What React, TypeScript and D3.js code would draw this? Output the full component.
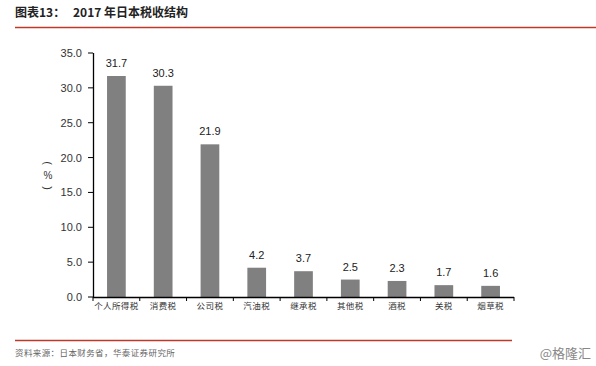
import React, { useEffect, useRef } from "react";
import * as d3 from "d3";

// 2017 Japan tax revenue structure (%)
const categories = ["个人所得税", "消费税", "公司税", "汽油税", "继承税", "其他税", "酒税", "关税", "烟草税"];
const values = [31.7, 30.3, 21.9, 4.2, 3.7, 2.5, 2.3, 1.7, 1.6];
const yTicks = [0, 5, 10, 15, 20, 25, 30, 35];

const W = 596;
const H = 366;
const RED = "#c0392b";
const CJK = "'Noto Sans CJK SC', sans-serif";
const LATIN = "'Liberation Sans', Arial, sans-serif";

const App = () => {
  const svgRef = useRef<SVGSVGElement>(null);

  useEffect(() => {
    if (!svgRef.current) return;
    const svg = d3.select(svgRef.current);
    svg.selectAll("*").remove();

    const left = 93, right = 514, top = 53, bottom = 297;

    const x = d3.scaleBand().domain(categories).range([left, right]).paddingInner(0.6).paddingOuter(0.3);
    const y = d3.scaleLinear().domain([0, 35]).range([bottom, top]);

    // title
    svg.append("text")
      .attr("x", 15).attr("y", 17)
      .attr("font-family", CJK).attr("font-size", 12).attr("font-weight", "bold").attr("fill", "#222")
      .text("图表13：");
    svg.append("text")
      .attr("x", 73).attr("y", 17)
      .attr("font-family", CJK).attr("font-size", 12).attr("font-weight", "bold").attr("fill", "#222")
      .text("2017 年日本税收结构");
    svg.append("line")
      .attr("x1", 15).attr("x2", 596).attr("y1", 27.5).attr("y2", 27.5)
      .attr("stroke", RED).attr("stroke-width", 1.5);

    // y axis
    svg.append("line")
      .attr("x1", left + 0.5).attr("x2", left + 0.5).attr("y1", top).attr("y2", bottom)
      .attr("stroke", "#000").attr("stroke-width", 1.3);
    yTicks.forEach(t => {
      svg.append("line")
        .attr("x1", left - 5).attr("x2", left).attr("y1", y(t)).attr("y2", y(t))
        .attr("stroke", "#000");
      svg.append("text")
        .attr("x", left - 11).attr("y", y(t) + 4)
        .attr("text-anchor", "end")
        .attr("font-family", LATIN).attr("font-size", 11).attr("fill", "#333")
        .text(t.toFixed(1));
    });

    // y label: vertical （%）
    svg.append("text")
      .attr("transform", `translate(48,163) rotate(90)`)
      .attr("text-anchor", "middle").attr("dominant-baseline", "central")
      .attr("font-family", LATIN).attr("font-size", 11).attr("fill", "#333")
      .text("(");
    svg.append("text")
      .attr("x", 48).attr("y", 179)
      .attr("text-anchor", "middle")
      .attr("font-family", LATIN).attr("font-size", 10).attr("fill", "#333")
      .text("%");
    svg.append("text")
      .attr("transform", `translate(48,188) rotate(90)`)
      .attr("text-anchor", "middle").attr("dominant-baseline", "central")
      .attr("font-family", LATIN).attr("font-size", 11).attr("fill", "#333")
      .text(")");

    // bars
    svg.selectAll(".bar")
      .data(values)
      .enter()
      .append("rect")
      .attr("x", (d, i) => x(categories[i])!)
      .attr("y", d => y(d))
      .attr("width", x.bandwidth())
      .attr("height", d => bottom - y(d))
      .attr("fill", "#808080");

    svg.selectAll(".val")
      .data(values)
      .enter()
      .append("text")
      .attr("x", (d, i) => x(categories[i])! + x.bandwidth() / 2)
      .attr("y", d => y(d) - 9)
      .attr("text-anchor", "middle")
      .attr("font-family", LATIN).attr("font-size", 11).attr("fill", "#222")
      .text(d => d.toFixed(1));

    // x axis with ticks between categories
    svg.append("line")
      .attr("x1", left).attr("x2", right).attr("y1", bottom + 0.5).attr("y2", bottom + 0.5)
      .attr("stroke", "#000").attr("stroke-width", 1.5);
    d3.range(categories.length + 1).forEach(i => {
      const tx = left + i * ((right - left) / categories.length);
      svg.append("line")
        .attr("x1", tx).attr("x2", tx).attr("y1", bottom).attr("y2", bottom + 4)
        .attr("stroke", "#000");
    });
    categories.forEach(c => {
      svg.append("text")
        .attr("x", x(c)! + x.bandwidth() / 2).attr("y", bottom + 12)
        .attr("text-anchor", "middle")
        .attr("font-family", CJK).attr("font-size", 8.5).attr("letter-spacing", 0.4).attr("fill", "#333")
        .text(c);
    });

    // footer
    svg.append("line")
      .attr("x1", 15).attr("x2", 512).attr("y1", 340.5).attr("y2", 340.5)
      .attr("stroke", RED).attr("stroke-width", 1.5);
    svg.append("text")
      .attr("x", 15).attr("y", 356)
      .attr("font-family", CJK).attr("font-size", 8.5).attr("letter-spacing", 0.4).attr("fill", "#666")
      .text("资料来源：日本财务省，华泰证券研究所");
    svg.append("text")
      .attr("x", 591).attr("y", 358)
      .attr("text-anchor", "end")
      .attr("font-family", CJK).attr("font-size", 13).attr("fill", "#888")
      .text("@格隆汇");
  }, []);

  return (
    <svg ref={svgRef} width={W} height={H}
      style={{ position: "absolute", left: 0, top: 0, background: "#fff" }} />
  );
};

export default App;
